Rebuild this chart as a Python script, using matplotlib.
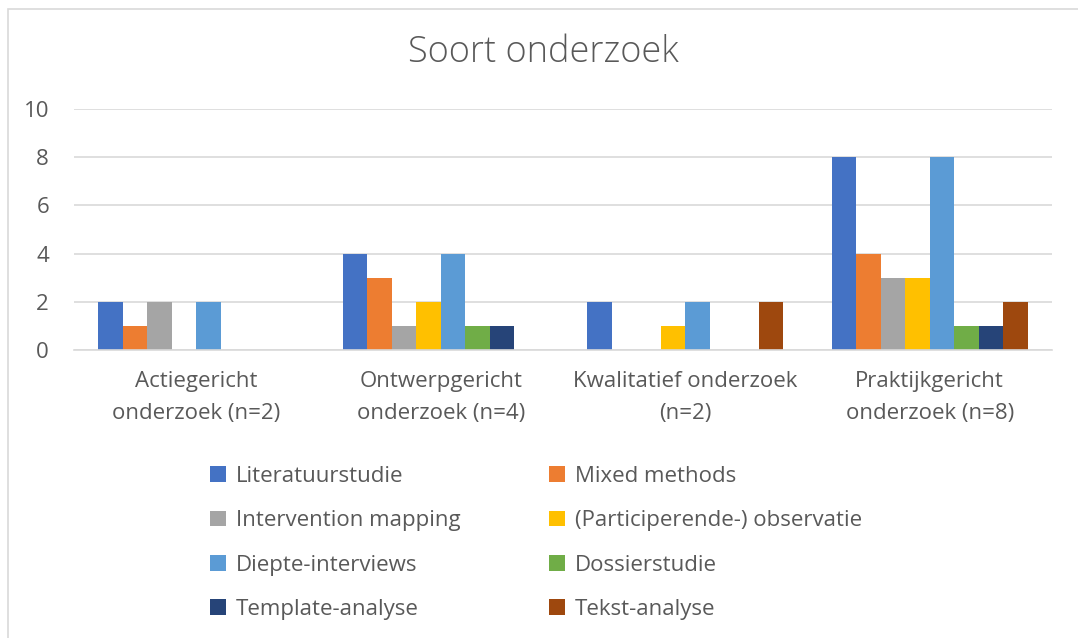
import matplotlib.pyplot as plt
import numpy as np
from matplotlib.patches import Rectangle

categories = ['Actiegericht\nonderzoek (n=2)', 'Ontwerpgericht\nonderzoek (n=4)',
              'Kwalitatief onderzoek\n(n=2)', 'Praktijkgericht\nonderzoek (n=8)']
series_names = ['Literatuurstudie', 'Mixed methods', 'Intervention mapping',
                '(Participerende-) observatie', 'Diepte-interviews', 'Dossierstudie',
                'Template-analyse', 'Tekst-analyse']
literatuurstudie = [2, 4, 2, 8]
mixed_methods = [1, 3, 0, 4]
intervention_mapping = [2, 1, 0, 3]
observatie = [0, 2, 1, 3]
diepte_interviews = [2, 4, 2, 8]
dossierstudie = [0, 1, 0, 1]
template_analyse = [0, 1, 0, 1]
tekst_analyse = [0, 0, 2, 2]
colors = ['#4472C4', '#ED7D31', '#A5A5A5', '#FFC000',
          '#5B9BD5', '#70AD47', '#264478', '#9E480E']

values = [literatuurstudie, mixed_methods, intervention_mapping, observatie,
          diepte_interviews, dossierstudie, template_analyse, tekst_analyse]

plt.rcParams['font.family'] = ['Open Sans', 'DejaVu Sans']
txt = '#595959'

fig = plt.figure(figsize=(10.78, 6.38), dpi=100)
ax = fig.add_axes([74 / 1078, 1 - 350 / 638, (1052 - 74) / 1078, (350 - 109) / 638])

# chart border like the Excel chart area
fig.patches.append(Rectangle((8 / 1078, -0.1), 1.2, 1 - 9 / 638 + 0.1,
                             transform=fig.transFigure, fill=False,
                             edgecolor='#D9D9D9', linewidth=1.2))

x = np.arange(len(categories))
n = len(values)
bw = 0.8 / n
handles = []
for i, (vals, c) in enumerate(zip(values, colors)):
    b = ax.bar(x - 0.4 + bw * (i + 0.5), vals, width=bw, color=c,
               label=series_names[i], zorder=3)
    handles.append(b)

ax.set_xlim(-0.5, len(categories) - 0.5)
ax.set_ylim(0, 10)
ax.set_yticks([0, 2, 4, 6, 8, 10])
ax.set_xticks(x)
ax.set_xticklabels(categories, fontsize=16, color=txt, linespacing=1.7)
ax.tick_params(axis='y', labelsize=16, labelcolor=txt, length=0, pad=18)
ax.tick_params(axis='x', length=0, pad=15)
ax.grid(axis='y', color='#D9D9D9', linewidth=1.2, zorder=0)
for s in ['top', 'right', 'left']:
    ax.spines[s].set_visible(False)
ax.spines['bottom'].set_color('#D9D9D9')
ax.spines['bottom'].set_linewidth(1.2)
ax.spines['bottom'].set_zorder(4)

fig.text(0.504, 1 - 53 / 638, 'Soort onderzoek', ha='center', va='center',
         fontsize=26, color=txt, fontweight='light')

order = [0, 2, 4, 6, 1, 3, 5, 7]
fig.legend([handles[i] for i in order], [series_names[i] for i in order],
           ncol=2, loc='upper left', bbox_to_anchor=(190 / 1078, 1 - 446 / 638),
           frameon=False, fontsize=16, labelcolor=txt,
           handlelength=0.7, handleheight=0.7, handletextpad=0.45,
           labelspacing=1.05, columnspacing=4.0)

fig.savefig('out.png', dpi=100)
